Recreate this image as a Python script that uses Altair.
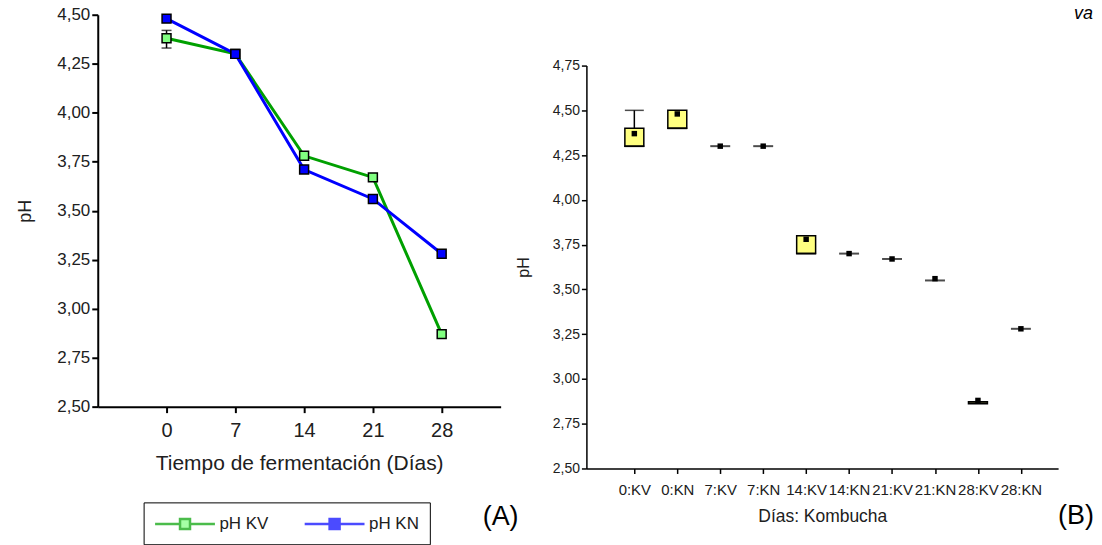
import altair as alt
import pandas as pd

# ---------------- data: panel (A) ----------------
days = [0, 7, 14, 21, 28]
ph_kv = [4.38, 4.30, 3.78, 3.67, 2.87]
ph_kn = [4.48, 4.30, 3.71, 3.56, 3.28]
series = ["pH KV", "pH KN"]
err_day = [0]
err_lo = [4.33]
err_hi = [4.42]
y_ticks_a = [2.5, 2.75, 3.0, 3.25, 3.5, 3.75, 4.0, 4.25, 4.5]

# ---------------- data: panel (B) ----------------
cats = ["0:KV", "0:KN", "7:KV", "7:KN", "14:KV", "14:KN", "21:KV", "21:KN", "28:KV", "28:KN"]
box_lo = [4.30, 4.40, 4.30, 4.30, 3.70, 3.70, 3.67, 3.55, 2.862, 3.28]
box_hi = [4.40, 4.50, 4.30, 4.30, 3.80, 3.70, 3.67, 3.55, 2.872, 3.28]
medians = [4.30, 4.40, 4.30, 4.30, 3.70, 3.70, 3.67, 3.55, 2.867, 3.28]
means = [4.37, 4.48, 4.30, 4.30, 3.78, 3.70, 3.67, 3.56, 2.88, 3.28]
whisk_idx = [1]
whisk_lo = [4.40]
whisk_hi = [4.50]
y_ticks_b = [2.5, 2.75, 3.0, 3.25, 3.5, 3.75, 4.0, 4.25, 4.5, 4.75]

FONT = "Liberation Sans"
TXT = "#202020"
comma_expr = "replace(format(datum.value, '.2f'), '.', ',')"

# ---------------- panel (A) ----------------
left_df = pd.DataFrame({
    "day": days * 2,
    "ph": ph_kv + ph_kn,
    "serie": [series[0]] * len(days) + [series[1]] * len(days),
})
err_df = pd.DataFrame({"day": err_day, "lo": err_lo, "hi": err_hi})

xa = alt.X("day:Q", scale=alt.Scale(domain=[-7, 34], nice=False, zero=False),
           axis=alt.Axis(values=days, title="Tiempo de fermentación (Días)", grid=False,
                         labelFont=FONT, labelFontSize=20, labelColor=TXT, labelPadding=8,
                         labelFlush=False, labelOverlap=False,
                         titleFont=FONT, titleFontSize=21, titleFontWeight="normal",
                         titleColor=TXT, titlePadding=12,
                         domainColor="black", domainWidth=2, tickColor="black",
                         tickWidth=2, tickSize=6))
ya = alt.Y("ph:Q", scale=alt.Scale(domain=[2.5, 4.5], nice=False, zero=False),
           axis=alt.Axis(values=y_ticks_a, labelExpr=comma_expr, title="pH", grid=False,
                         labelFont=FONT, labelFontSize=17, labelColor=TXT, labelPadding=2,
                         titleFont=FONT, titleFontSize=18, titleFontWeight="normal",
                         titleColor=TXT, titlePadding=22,
                         domainColor="black", domainWidth=2, tickColor="black",
                         tickWidth=2, tickSize=6))

line_kv = alt.Chart(left_df).transform_filter(alt.datum.serie == series[0]).mark_line(
    color="#00A000", strokeWidth=3).encode(x=xa, y=ya)
line_kn = alt.Chart(left_df).transform_filter(alt.datum.serie == series[1]).mark_line(
    color="#0000FF", strokeWidth=3).encode(x=xa, y=ya)

err_rule = alt.Chart(err_df).mark_rule(color="black", strokeWidth=1.5).encode(
    x=alt.X("day:Q"), y=alt.Y("lo:Q"), y2="hi:Q")
err_cap_lo = alt.Chart(err_df).mark_tick(orient="horizontal", color="black", size=10,
                                         thickness=1.5).encode(x="day:Q", y="lo:Q")
err_cap_hi = alt.Chart(err_df).mark_tick(orient="horizontal", color="black", size=10,
                                         thickness=1.5).encode(x="day:Q", y="hi:Q")

pt_kv = alt.Chart(left_df).transform_filter(alt.datum.serie == series[0]).mark_square(
    size=80, fill="#80FF80", stroke="black", strokeWidth=1.5, opacity=1).encode(x=xa, y=ya)
pt_kn = alt.Chart(left_df).transform_filter(alt.datum.serie == series[1]).mark_square(
    size=80, fill="#0000FF", stroke="black", strokeWidth=1.5, opacity=1).encode(x=xa, y=ya)

# legend symbol: a 60px line with a 10px square in its middle (symbol size 20px -> 10px/unit)
sym = "M-1,0H1.5M2.5,0H5M1.5,-0.5H2.5V0.5H1.5Z"
leg = alt.Legend(orient="none", legendX=46, legendY=489, direction="horizontal", title=None,
                 strokeColor="black", fillColor="white", padding=10,
                 symbolType=sym, symbolSize=400, symbolStrokeWidth=2.5,
                 labelFont=FONT, labelFontSize=17, labelColor=TXT, labelOffset=43,
                 columnPadding=30)
legend_layer = alt.Chart(pd.DataFrame({"serie": series})).transform_filter("false").mark_point(
    filled=True, shape="square").encode(
    fill=alt.Fill("serie:N", scale=alt.Scale(domain=series, range=["#80FF80", "#0000FF"]), legend=leg),
    stroke=alt.Stroke("serie:N", scale=alt.Scale(domain=series, range=["#00A000", "#0000FF"]), legend=leg),
)

label_a = alt.Chart(pd.DataFrame({"t": ["(A)"]})).mark_text(
    font=FONT, fontSize=27, color="black").encode(
    x=alt.value(404), y=alt.value(504), text="t:N")

left = alt.layer(line_kv, line_kn, err_rule, err_cap_lo, err_cap_hi, pt_kv, pt_kn,
                 legend_layer, label_a).properties(width=404, height=393)

# ---------------- panel (B) ----------------
right_df = pd.DataFrame({
    "idx": list(range(1, len(cats) + 1)),
    "cat": cats, "lo": box_lo, "hi": box_hi, "med": medians, "mean": means,
})
whisk_df = pd.DataFrame({"idx": whisk_idx, "lo": whisk_lo, "hi": whisk_hi})

cat_expr = "[''," + ",".join("'%s'" % c for c in cats) + "][datum.value]"
xb = alt.X("idx:Q", scale=alt.Scale(domain=[0, 10.75], nice=False, zero=False),
           axis=alt.Axis(values=list(range(1, len(cats) + 1)), labelExpr=cat_expr,
                         title="Días: Kombucha", grid=False,
                         labelFont=FONT, labelFontSize=15, labelColor=TXT, labelPadding=9,
                         labelFlush=False, labelOverlap=False,
                         titleFont=FONT, titleFontSize=17.5, titleFontWeight="normal",
                         titleColor=TXT, titlePadding=10,
                         domainColor="black", domainWidth=1.5, tickColor="black",
                         tickWidth=1.5, tickSize=5))
yb_axis = alt.Axis(values=y_ticks_b, labelExpr=comma_expr, title="pH", grid=False,
                   labelFont=FONT, labelFontSize=14, labelColor=TXT, labelPadding=2,
                   titleFont=FONT, titleFontSize=16, titleFontWeight="normal",
                   titleColor=TXT, titlePadding=21,
                   domainColor="black", domainWidth=1.5, tickColor="black",
                   tickWidth=1.5, tickSize=5)
yscale_b = alt.Scale(domain=[2.5, 4.75], nice=False, zero=False)

boxes = alt.Chart(right_df).transform_filter("datum.hi > datum.lo").mark_bar(
    fill="#FFFF80", stroke="black", strokeWidth=1.5, size=19).encode(
    x=xb, y=alt.Y("lo:Q", scale=yscale_b, axis=yb_axis), y2="hi:Q")
med_ticks = alt.Chart(right_df).mark_tick(orient="horizontal", color="black", size=20,
                                          thickness=2).encode(
    x=xb, y=alt.Y("med:Q", scale=yscale_b, axis=yb_axis))
wh_rule = alt.Chart(whisk_df).mark_rule(color="black", strokeWidth=1.5).encode(
    x="idx:Q", y="lo:Q", y2="hi:Q")
wh_cap = alt.Chart(whisk_df).mark_tick(orient="horizontal", color="black", size=19,
                                       thickness=1.5).encode(x="idx:Q", y="hi:Q")
mean_pts = alt.Chart(right_df).mark_square(size=30, color="black", opacity=1).encode(
    x=xb, y=alt.Y("mean:Q", scale=yscale_b, axis=yb_axis))

label_b = alt.Chart(pd.DataFrame({"t": ["(B)"]})).mark_text(
    font=FONT, fontSize=27, color="black").encode(
    x=alt.value(491), y=alt.value(452), text="t:N")

right = alt.layer(boxes, wh_rule, wh_cap, med_ticks, mean_pts, label_b).properties(
    width=473, height=404)

spacer = alt.Chart(pd.DataFrame({"t": ["va"]})).mark_text(
    font=FONT, fontSize=18, fontStyle="italic", color="black", align="left",
    baseline="middle").encode(x=alt.value(489), y=alt.value(-1), text="t:N").properties(
    width=473, height=44)

right_col = alt.vconcat(spacer, right, spacing=0)

chart = alt.hconcat(left, right_col, spacing=-4).resolve_scale(
    fill="independent", stroke="independent").resolve_legend(
    fill="independent", stroke="independent").properties(
    padding={"left": 8, "top": -4, "right": 0, "bottom": 0},
    background="white",
).configure_view(stroke=None)

chart.save("out.html", embed_options={"renderer": "svg", "actions": False})
